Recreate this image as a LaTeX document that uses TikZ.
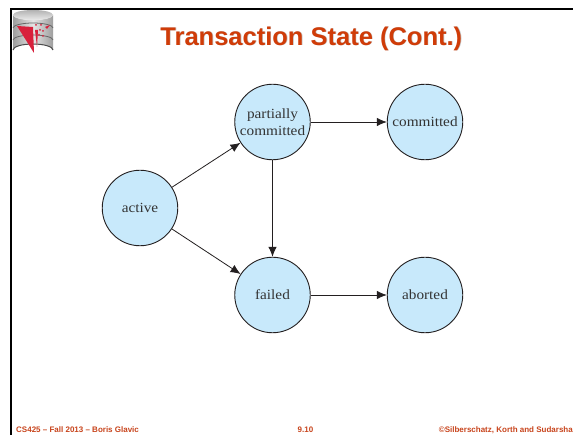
\documentclass[tikz,border=0pt]{standalone}
\usepackage{fontspec}
\setmainfont{Liberation Serif}[FakeStretch=1.09]
\newfontfamily\hfont{Liberation Sans}
\usetikzlibrary{arrows.meta}
\definecolor{titlecol}{HTML}{D03C08}
\definecolor{footcol}{HTML}{C8441C}
\definecolor{statefill}{HTML}{C8E9FB}
\definecolor{inkcol}{HTML}{231F20}
\definecolor{logored}{HTML}{D8203C}
\tikzset{
  state/.style={circle,draw=inkcol,line width=0.9pt,fill=statefill,minimum size=75.5pt,inner sep=0pt,
    align=center,font=\fontsize{14}{17.5}\selectfont,text=black!80},
  link/.style={draw=inkcol,line width=0.8pt,-{Latex[length=10pt,width=8.5pt]}},
  foot/.style={font=\hfont\bfseries\fontsize{8}{9}\selectfont,text=footcol,anchor=base,inner sep=0pt},
  frameline/.style={line width=2pt,black}
}
\begin{document}
\begin{tikzpicture}[x=1pt,y=-1pt]
\useasboundingbox[fill=white] (0,0) rectangle (573,435);
% frame
\draw[frameline] (573,9) -- (11,9) -- (11,435);
% logo
\shade[left color=black!38,right color=black!38,middle color=black!10]
  (13,15) -- (13,50) arc[start angle=180,end angle=360,x radius=20,y radius=6] -- (53,15) arc[start angle=0,end angle=180,x radius=20,y radius=5];
\shade[top color=black!30,bottom color=black!8] (33,15) ellipse[x radius=20,y radius=5];
\draw[black!60,line width=0.8pt] (13,28) arc[start angle=180,end angle=360,x radius=20,y radius=5];
\draw[black!60,line width=0.8pt] (13,40) arc[start angle=180,end angle=360,x radius=20,y radius=5];
\draw[black!70,line width=1pt] (13,50) arc[start angle=180,end angle=360,x radius=20,y radius=6];
\fill[logored] (17,26) -- (33,27) -- (34,53) -- cycle;
\fill[logored] (35,30) -- (38,30) -- (37,47) -- cycle;
\fill[logored] (45,27) -- (50,25) -- (47,29) -- cycle;
\foreach \p in {(36,25),(41,25),(40,30),(43,31),(39,35),(43,36)} \fill[logored] \p circle[radius=1];
% title
\node[font=\hfont\bfseries\fontsize{25.5}{27}\selectfont,text=black!22] at (312,39.2) {Transaction State (Cont.)};
\node[font=\hfont\bfseries\fontsize{25.5}{27}\selectfont,text=titlecol] (title) at (311.3,38.5) {Transaction State (Cont.)};
% states
\node[state] (partial) at (272.5,122) {partially\\committed};
\node[state] (committed) at (425,122) {committed};
\node[state] (active) at (140,208) {active};
\node[state] (failed) at (272.5,295) {failed};
\node[state] (aborted) at (425,295) {aborted};
% connectors
\draw[link] (active) -- (partial);
\draw[link] (active) -- (failed);
\draw[link] (partial) -- (committed);
\draw[link] (partial) -- (failed);
\draw[link] (failed) -- (aborted);
% footer
\node[foot,anchor=base west] (f1) at (16,432) {CS425 – Fall 2013 – Boris Glavic};
\node[foot] (f2) at (305.5,432) {9.10};
\node[foot,anchor=base east] (f3) at (573,432) {©Silberschatz, Korth and Sudarsha};
\end{tikzpicture}
\end{document}
